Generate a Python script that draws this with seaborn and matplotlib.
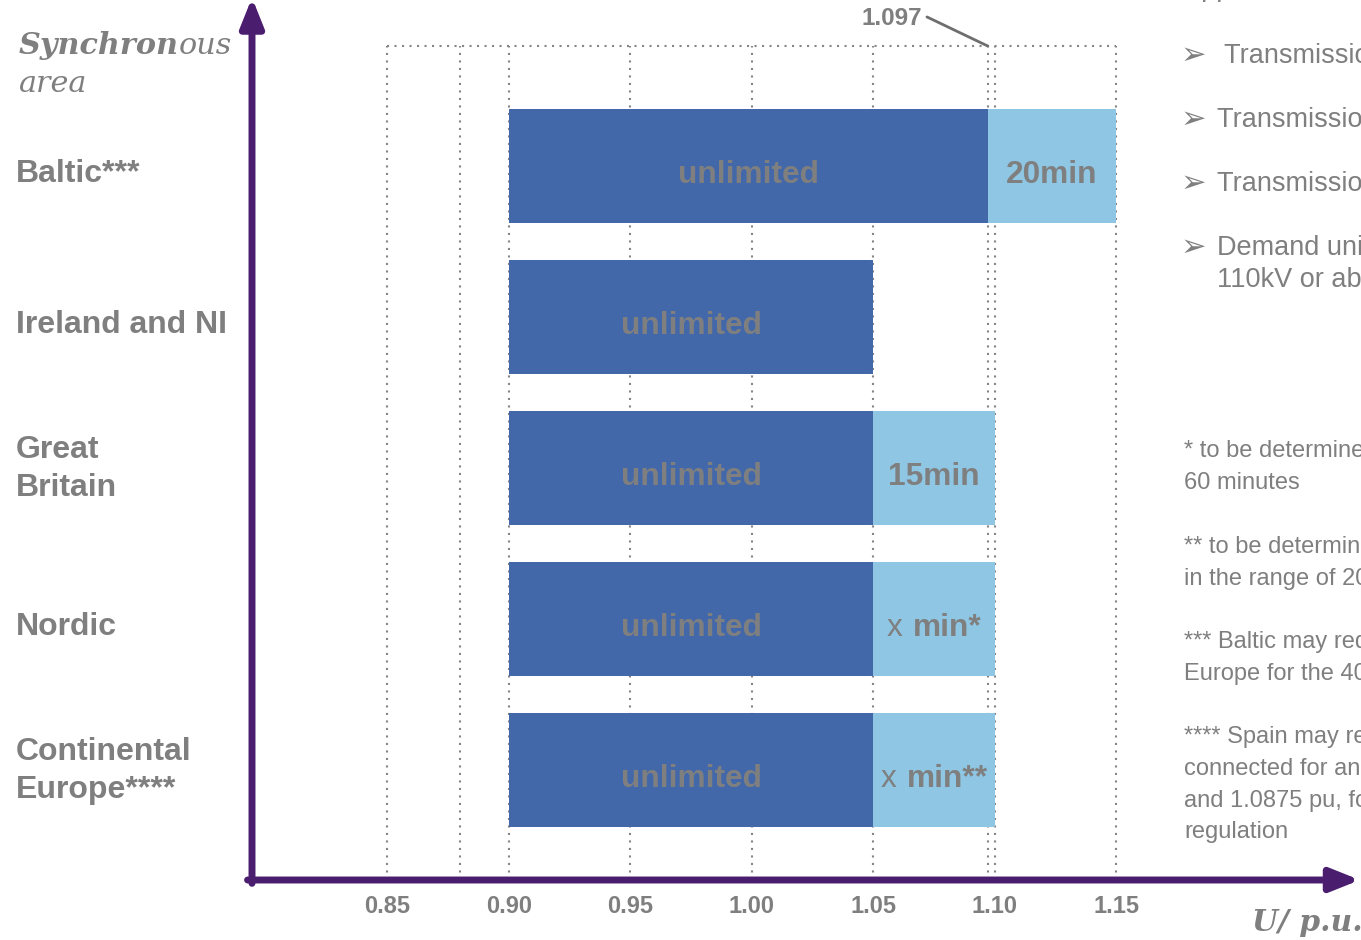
import numpy as np
import pandas as pd
import matplotlib
matplotlib.use("Agg")
import matplotlib.pyplot as plt
import seaborn as sns
from matplotlib.offsetbox import TextArea, HPacker, VPacker, AnnotationBbox

# ---- data -------------------------------------------------------------
areas = ["Baltic***", "Ireland and NI", "Great\nBritain", "Nordic",
         "Continental\nEurope****"]
unlimited_lo = [0.90, 0.90, 0.90, 0.90, 0.90]
unlimited_hi = [1.097, 1.05, 1.05, 1.05, 1.05]
limited_hi = [1.15, np.nan, 1.10, 1.10, 1.10]
unlimited_text = "unlimited"
# each limited-band label as (text, weight) pieces
limited_text = [
    [("20min", "bold")],
    [],
    [("15min", "bold")],
    [("x", "normal"), ("min*", "bold")],
    [("x", "normal"), ("min**", "bold")],
]

tick_values = [0.85, 0.90, 0.95, 1.00, 1.05, 1.10, 1.15]
tick_labels = ["0.85", "0.90", "0.95", "1.00", "1.05", "1.10", "1.15"]
grid_values = [0.85, 0.88, 0.90, 0.95, 1.00, 1.05, 1.097, 1.10, 1.15]
marker_value = 1.097

bullets = [
    " Transmission connected demand facilities",
    "Transmission connected distribution facilities",
    "Transmission connected distribution systems",
    "Demand units used for demand response, connected at",
]
bullet_extra = "110kV or above"
footnotes = [
    ["* to be determined by each TSO, but not less than", "60 minutes"],
    ["** to be determined by each relevant TSO,", "in the range of 20 to 60 minutes"],
    ["*** Baltic may request the same as Continental",
     "Europe for the 400 kV voltage level"],
    ["**** Spain may require demand facilities to stay",
     "connected for an unlimited period between 1.05",
     "and 1.0875 pu, for the purpose of voltage",
     "regulation"],
]

# ---- style ------------------------------------------------------------
DARK = "#4268AA"
LIGHT = "#8EC6E3"
GRAY = "#7F7F7F"
GRID = "#858585"
PURPLE = "#4B1D6E"

sns.set_theme(style="white")
plt.rcParams["font.family"] = ["Liberation Sans", "DejaVu Sans"]

W, H = 1361, 940
fig = plt.figure(figsize=(W / 100, H / 100), dpi=100)
ax = fig.add_axes([252 / W, 60 / H, 1109 / W, 834 / H])

df = pd.DataFrame({"area": areas, "lo": unlimited_lo, "hi": unlimited_hi,
                   "hi2": limited_hi})
df["hi2"] = df["hi2"].fillna(df["hi"])
df["unl_w"] = df["hi"] - df["lo"]
df["lim_w"] = df["hi2"] - df["hi"]

sns.barplot(data=df, x="unl_w", y="area", orient="y", color=DARK,
            saturation=1, width=0.75, errorbar=None, linewidth=0,
            left=df["lo"].to_numpy(), ax=ax, zorder=3)
sns.barplot(data=df, x="lim_w", y="area", orient="y", color=LIGHT,
            saturation=1, width=0.75, errorbar=None, linewidth=0,
            left=df["hi"].to_numpy(), ax=ax, zorder=3)

X0, X1 = 0.79424, 1.25062
YB, YT = 4.7285, -0.7947
PX = 1 / 151.0  # one pixel in category units
ax.set_xlim(X0, X1)
ax.set_ylim(YB, YT)
ax.set_xlabel("")
ax.set_ylabel("")
ax.grid(False)
for s in ax.spines.values():
    s.set_visible(False)

# dotted reference grid
dots = (0, (1, 2.6))
ax.vlines(grid_values, YB, YT, colors=GRID, linestyles=dots, lw=1.5,
          zorder=1, clip_on=False)
ax.hlines(YT, min(grid_values), max(grid_values), colors=GRID,
          linestyles=dots, lw=1.5, zorder=1, clip_on=False)

# x tick labels
ax.set_xticks(tick_values, tick_labels)
ax.tick_params(axis="x", length=0, pad=11, labelsize=17, labelcolor=GRAY)
for lbl in ax.get_xticklabels():
    lbl.set_fontweight("bold")

# area names, left aligned at the figure margin
ax.set_yticks(range(len(areas)), [""] * len(areas))
ax.tick_params(axis="y", length=0)
name_x = (16 - 252) / 1109
for i, name in enumerate(areas):
    dy = 8.5 * PX if "\n" not in name else 1 * PX
    ax.text(name_x, i + dy, name, transform=ax.get_yaxis_transform(),
            ha="left", va="center", fontsize=23, fontweight="bold",
            color=GRAY, linespacing=1.32, clip_on=False)

# bar labels
for i, row in df.iterrows():
    yc = i + 9 * PX
    ax.text((row.lo + row.hi) / 2, yc, unlimited_text, ha="center",
            va="center", fontsize=22.8, fontweight="bold", color=GRAY,
            zorder=4)
    parts = limited_text[i]
    if parts:
        boxes = [TextArea(t, textprops=dict(fontsize=22.8, fontweight=w,
                                            color=GRAY)) for t, w in parts]
        pack = HPacker(children=boxes, sep=8, align="baseline", pad=0)
        ab = AnnotationBbox(pack, ((row.hi + row.hi2) / 2, yc),
                            xycoords="data", frameon=False, pad=0,
                            box_alignment=(0.5, 0.5), zorder=4)
        ax.add_artist(ab)

# marker for the Baltic boundary
ax.annotate("1.097", xy=(marker_value, YT), xycoords="data",
            xytext=(-47, 20), textcoords="offset points", ha="right",
            va="center", fontsize=17.5, fontweight="bold", color=GRAY,
            annotation_clip=False,
            arrowprops=dict(arrowstyle="-", color="#6E6E6E", lw=2,
                            shrinkA=1, shrinkB=0, relpos=(1, 0.65)))

# axis arrows
arrow_kw = dict(arrowstyle="-|>,head_length=1.75,head_width=0.7", lw=5,
                color=PURPLE, shrinkA=0, shrinkB=0, mutation_scale=10)
ax.annotate("", xy=(0.999, 0), xycoords="axes fraction",
            xytext=(-0.004, 0), textcoords="axes fraction",
            arrowprops=arrow_kw, annotation_clip=False)
ax.annotate("", xy=(0, 1.058), xycoords="axes fraction",
            xytext=(0, -0.004), textcoords="axes fraction",
            arrowprops=arrow_kw, annotation_clip=False)

# axis titles
serif = "DejaVu Serif"
syn_kw = dict(family=serif, style="italic", size=21.8, color=GRAY)
title_box = VPacker(children=[
    HPacker(children=[TextArea("Synchron", textprops=dict(weight="bold", **syn_kw)),
                      TextArea("ous", textprops=dict(weight="normal", **syn_kw))],
            sep=0, align="baseline", pad=0),
    TextArea("area", textprops=dict(weight="normal", **syn_kw)),
], sep=7, align="left", pad=0)
fig.add_artist(AnnotationBbox(title_box, (19, H - 31), xycoords="figure pixels",
                              box_alignment=(0, 1), frameon=False, pad=0))
fig.text(1252 / W, 1 - 931 / H, "U/ p.u.", family=serif, style="italic",
         weight="bold", size=21.5, color=GRAY, va="baseline", ha="left")

# side notes
def ftext(x, y, s, size):
    fig.text(x / W, 1 - y / H, s, fontsize=size, color=GRAY,
             va="baseline", ha="left")

ftext(1183, -4, "Applies to:", 19.5)
for b, yb in zip(bullets, [63, 127, 191, 255]):
    ftext(1181, yb + 1, "\u27a2", 22)
    ftext(1217, yb, b, 19.5)
ftext(1217, 287, bullet_extra, 19.5)

foot_y = [[457, 489], [553, 585], [648, 680], [743, 775, 807, 838]]
for lines, ys in zip(footnotes, foot_y):
    for line, yb in zip(lines, ys):
        ftext(1184, yb, line, 17)

fig.savefig("out.png", dpi=100)
